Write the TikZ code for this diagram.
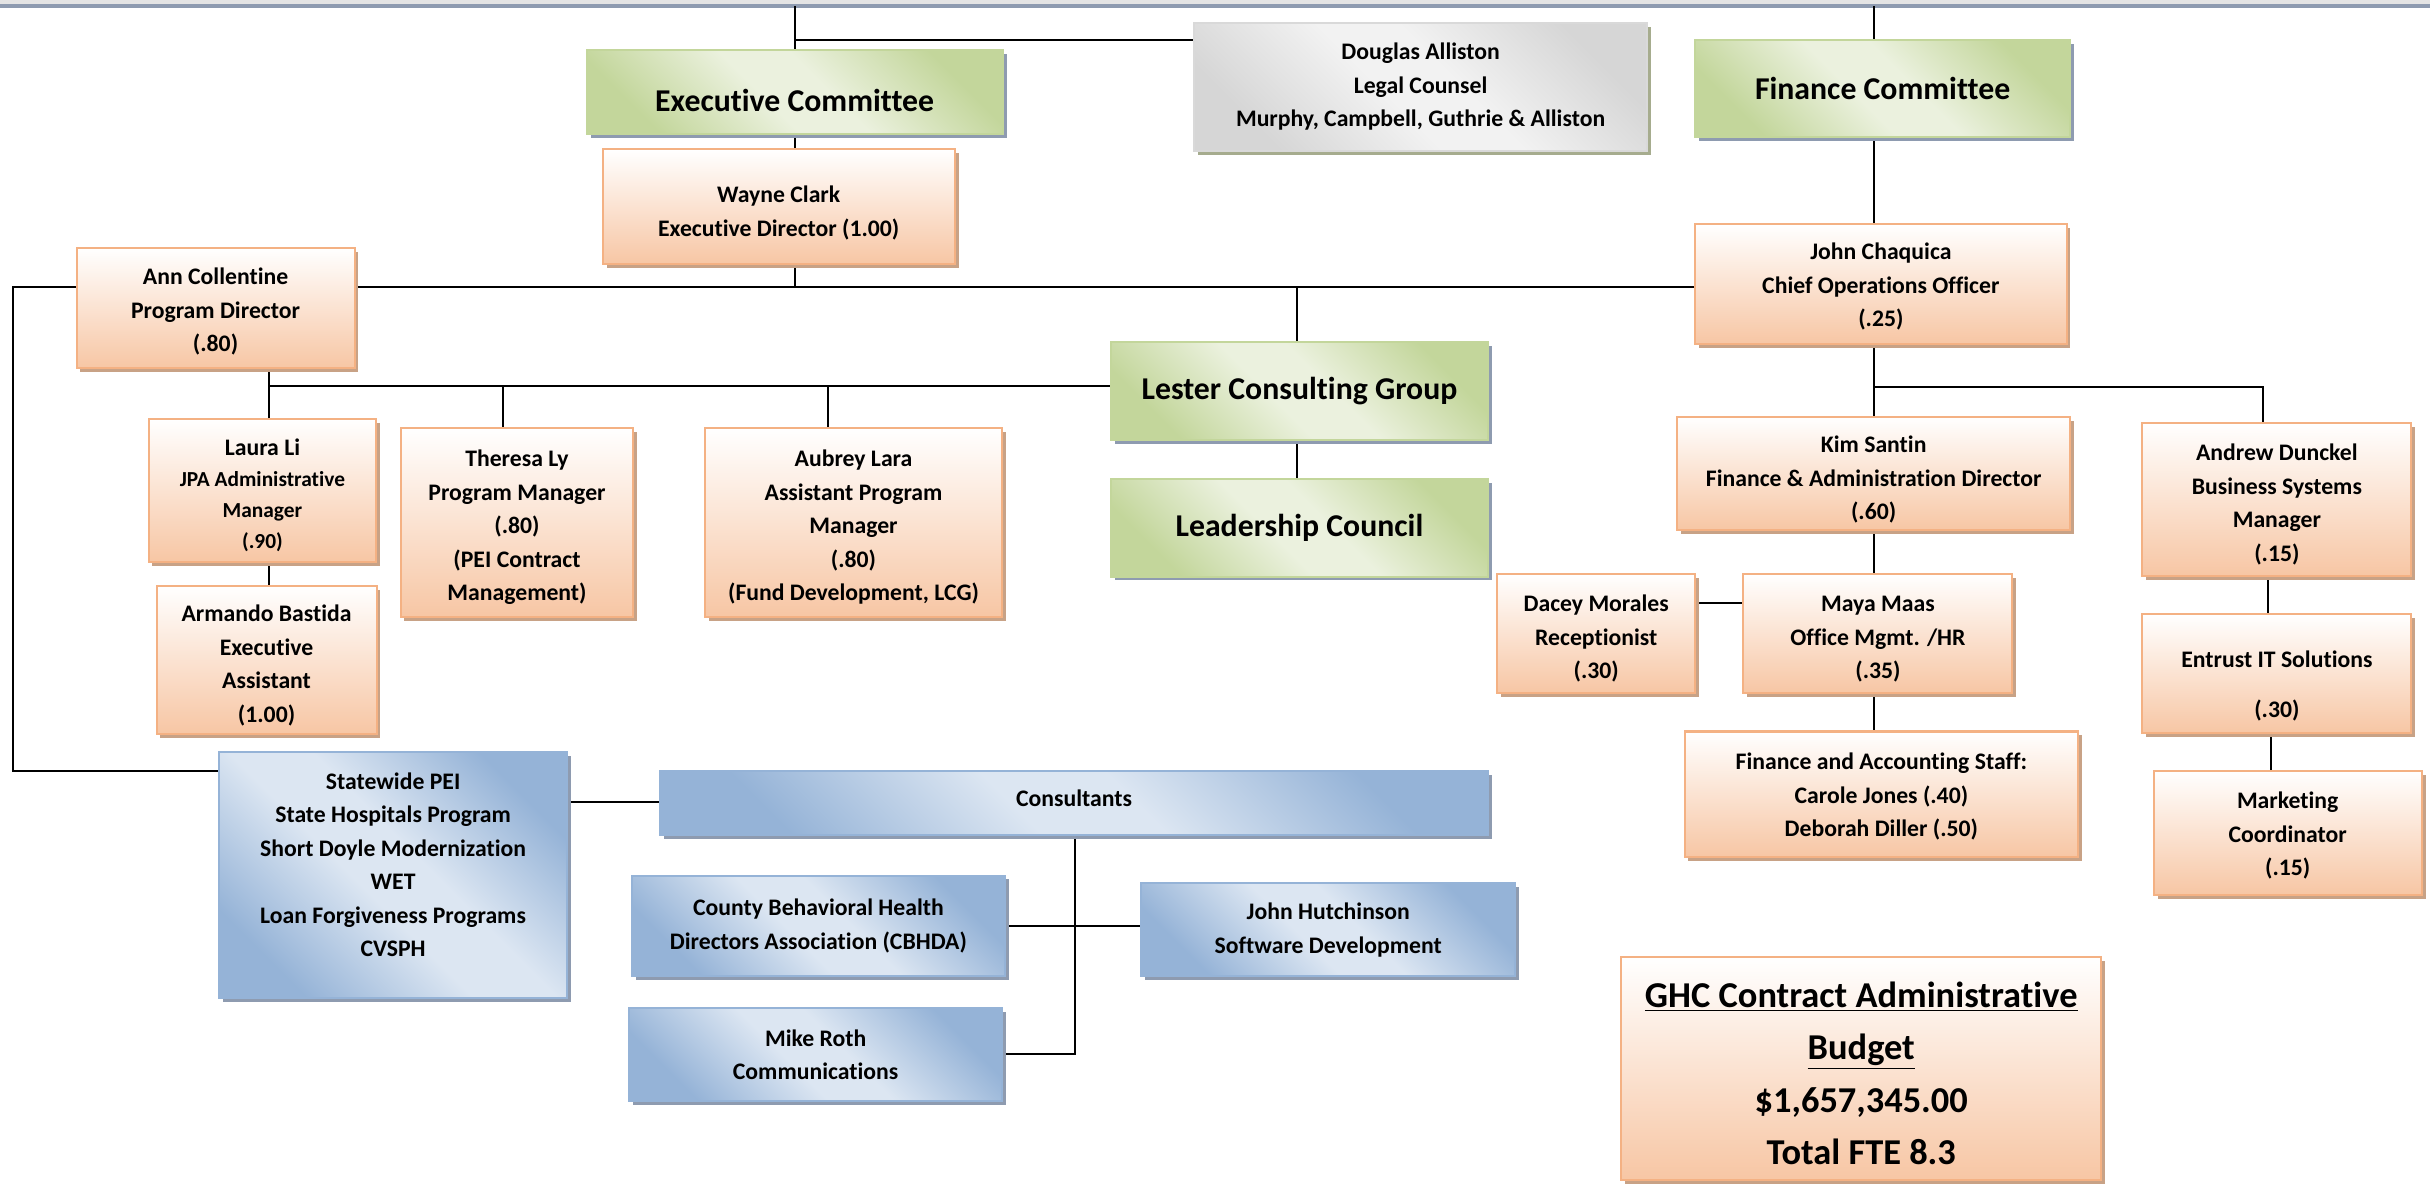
\documentclass[tikz,border=0pt]{standalone}
\usepackage{fontspec}
\setmainfont{Carlito}[Ligatures=NoCommon]
\usetikzlibrary{shadows,backgrounds}
\definecolor{orline}{HTML}{F4B183}
\definecolor{orfill}{HTML}{F7C6A4}
\definecolor{orshadow}{HTML}{C8A286}
\definecolor{gdark}{HTML}{C3D69B}
\definecolor{glight}{HTML}{EBF1DE}
\definecolor{gline}{HTML}{C3D69B}
\definecolor{bdark}{HTML}{95B3D7}
\definecolor{blight}{HTML}{DCE6F2}
\definecolor{bline}{HTML}{95B3D7}
\definecolor{grdark}{HTML}{D6D6D6}
\definecolor{grlight}{HTML}{F2F2F2}
\definecolor{grline}{HTML}{D9D9D9}
\definecolor{bshadow}{HTML}{8E9BB0}
\definecolor{grshadow}{HTML}{A6AC8E}
\definecolor{topgray}{HTML}{E4E4E4}
\newcommand{\mylift}[1]{\rule{0pt}{#1pt}}
\pgfdeclarehorizontalshading{gdiag}{100bp}{color(0bp)=(gdark); color(25bp)=(gdark); color(45bp)=(glight); color(55bp)=(glight); color(75bp)=(gdark); color(100bp)=(gdark)}
\pgfdeclarehorizontalshading{bdiag}{100bp}{color(0bp)=(bdark); color(25bp)=(bdark); color(45bp)=(blight); color(55bp)=(blight); color(75bp)=(bdark); color(100bp)=(bdark)}
\pgfdeclarehorizontalshading{grdiag}{100bp}{color(0bp)=(grdark); color(25bp)=(grdark); color(45bp)=(grlight); color(55bp)=(grlight); color(75bp)=(grdark); color(100bp)=(grdark)}
\tikzset{
  base/.style={inner sep=0pt, align=center, font=\fontsize{15.3}{21.6}\selectfont\bfseries, line width=1.3pt},
  orbox/.style={base, draw=orline, top color=white, bottom color=orfill,
    drop shadow={shadow xshift=2.5pt, shadow yshift=-2.5pt, fill=orshadow, opacity=1}},
  grnbox/.style={base, draw=gline, shading=gdiag, shading angle=45,
    drop shadow={shadow xshift=2.5pt, shadow yshift=-2.5pt, fill=bshadow, opacity=1},
    font=\fontsize{20.5}{24}\selectfont\bfseries},
  bluebox/.style={base, draw=bline, shading=bdiag, shading angle=45,
    drop shadow={shadow xshift=2.5pt, shadow yshift=-2.5pt, fill=bshadow, opacity=1}},
  graybox/.style={base, draw=grline, shading=grdiag, shading angle=45,
    drop shadow={shadow xshift=2.5pt, shadow yshift=-2.5pt, fill=grshadow, opacity=1}},
  sz/.style 2 args={minimum width=#1pt, minimum height=#2pt},
  conn/.style={line width=1.3pt, black}
}
\begin{document}
\begin{tikzpicture}[x=1pt,y=-1pt]
\useasboundingbox (0,0) rectangle (1568,766);
% boxes
\node[grnbox, sz={268.4}{54.2}, execute at begin node={\rule{0pt}{25pt}}] (exec) at (512.8,59.4) {Executive Committee};
\node[graybox, sz={292.3}{82.6}] (doug) at (916.65,55.9) {Douglas Alliston\\Legal Counsel\\Murphy, Campbell, Guthrie \& Alliston};
\node[grnbox, sz={242}{62.2}] (fin) at (1214.8,57.1) {Finance Committee};
\node[orbox, sz={227}{74}] (wayne) at (502.5,133.4) {\mylift{19}Wayne Clark\\Executive Director (1.00)};
\node[orbox, sz={179.4}{77.7}] (ann) at (139.1,198.85) {\mylift{15}Ann Collentine\\Program Director\\(.80)};
\node[orbox, sz={239.7}{77.3}] (chaq) at (1213.65,183.35) {\mylift{14}John Chaquica\\Chief Operations Officer\\(.25)};
\node[grnbox, sz={243}{63.5}] (lester) at (838.5,252.25) {Lester Consulting Group};
\node[grnbox, sz={243}{63}] (leader) at (838.5,340.5) {Leadership Council};
\node[orbox, sz={146.9}{91.9}, font=\fontsize{13.8}{20}\selectfont\bfseries] (laura) at (169.35,316.55) {\mylift{17}{\fontsize{15.3}{20}\selectfont Laura Li}\\JPA Administrative\\Manager\\(.90)};
\node[orbox, sz={142}{95.6}] (armando) at (172,425.8) {\mylift{18}Armando Bastida\\Executive\\Assistant\\(1.00)};
\node[orbox, sz={150.2}{121.6}] (theresa) at (333.6,337.2) {\mylift{17}Theresa Ly\\Program Manager\\(.80)\\(PEI Contract\\Management)};
\node[orbox, sz={191.5}{121.6}] (aubrey) at (550.75,337.2) {\mylift{17}Aubrey Lara\\Assistant Program\\Manager\\(.80)\\(Fund Development, LCG)};
\node[orbox, sz={254}{73.1}] (kim) at (1209,305.45) {\mylift{19}Kim Santin\\Finance \& Administration Director\\(.60)};
\node[orbox, sz={173.6}{98.7}] (andrew) at (1469.2,322.35) {\mylift{17}Andrew Dunckel\\Business Systems\\Manager\\(.15)};
\node[orbox, sz={128}{76.8}] (dacey) at (1030,408.9) {\mylift{17}Dacey Morales\\Receptionist\\(.30)};
\node[orbox, sz={173.5}{76.8}] (maya) at (1211.75,408.9) {\mylift{17}Maya Maas\\Office Mgmt. /HR\\(.35)};
\node[orbox, sz={254}{81}] (staff) at (1214,512.5) {\mylift{14}Finance and Accounting Staff:\\Carole Jones (.40)\\Deborah Diller (.50)};
\node[orbox, sz={173.6}{76.8}] (entrust) at (1469.2,434.8) {\mylift{26}Entrust IT Solutions\\[10.8pt](.30)};
\node[orbox, sz={172.9}{80}] (market) at (1476.15,537.5) {\mylift{14}Marketing\\Coordinator\\(.15)};
\node[bluebox, sz={224.7}{159}] (pei) at (253.65,564.5) {};
\node[base] (peitext) at ([yshift=6.5pt]pei.center) {Statewide PEI\\State Hospitals Program\\Short Doyle Modernization\\WET\\Loan Forgiveness Programs\\CVSPH};
\node[bluebox, sz={534}{41.5}, execute at begin node={\rule[-7pt]{0pt}{1pt}}] (cons) at (693,518.25) {Consultants};
\node[bluebox, sz={240.8}{65}] (cbhda) at (528.1,597.5) {County Behavioral Health\\Directors Association (CBHDA)};
\node[bluebox, sz={241.4}{60}] (hutch) at (857.1,600) {John Hutchinson\\Software Development};
\node[bluebox, sz={240.6}{59.8}] (mike) at (526.3,680.6) {Mike Roth\\Communications};
\node[orbox, sz={310}{143.7}, font=\fontsize{23.5}{33.7}\selectfont\bfseries] (ghc) at (1201,689.65) {\mylift{22.5}\underline{GHC Contract Administrative}\\\underline{Budget}\\\$1,657,345.00\\Total FTE 8.3};
% connectors
\begin{pgfonlayer}{background}
\fill[topgray] (0,0) rectangle (1568,2.3);
\fill[bshadow] (0,2.3) rectangle (1568,5.2);
\coordinate (topA) at (513,4);
\coordinate (jd) at (513,26);
\coordinate (hl) at (513,185);
\coordinate (lc) at (8.2,185);
\coordinate (lc2) at (8.2,497.5);
\coordinate (lx) at (837,185);
\coordinate (ax) at (173.3,249);
\coordinate (tx) at (324.3,249);
\coordinate (ux) at (534.5,249);
\coordinate (fx) at (1209,4);
\coordinate (cj) at (1209,249.5);
\coordinate (cj2) at (1460,249.5);
\coordinate (dy) at (0,389);
\coordinate (ex) at (1463.4,0);
\coordinate (mx) at (1465.5,0);
\coordinate (py) at (0,517.3);
\coordinate (vx) at (693.5,0);
\coordinate (my) at (0,680.4);
\coordinate (hy) at (0,597.3);
\draw[conn] (topA) -- (topA |- exec.north);
\draw[conn] (jd) -- (jd -| doug.west);
\draw[conn] (exec.south -| topA) -- (topA |- wayne.north);
\draw[conn] (wayne.south -| hl) -- (hl);
\draw[conn] (hl -| ann.east) -- (hl -| chaq.west);
\draw[conn] (hl -| ann.west) -- (lc) -- (lc2) -- (lc2 -| pei.west);
\draw[conn] (lx) -- (lx |- lester.north);
\draw[conn] (lester.south -| lx) -- (lx |- leader.north);
\draw[conn] (ax |- ann.south) -- (ax |- laura.north);
\draw[conn] (ax) -- (ax -| lester.west);
\draw[conn] (tx) -- (tx |- theresa.north);
\draw[conn] (ux) -- (ux |- aubrey.north);
\draw[conn] (ax |- laura.south) -- (ax |- armando.north);
\draw[conn] (fx) -- (fx |- fin.north);
\draw[conn] (fx |- fin.south) -- (fx |- chaq.north);
\draw[conn] (fx |- chaq.south) -- (fx |- kim.north);
\draw[conn] (cj) -- (cj2) -- (cj2 |- andrew.north);
\draw[conn] (fx |- kim.south) -- (fx |- maya.north);
\draw[conn] (dacey.east |- dy) -- (maya.west |- dy);
\draw[conn] (fx |- maya.south) -- (fx |- staff.north);
\draw[conn] (ex |- andrew.south) -- (ex |- entrust.north);
\draw[conn] (mx |- entrust.south) -- (mx |- market.north);
\draw[conn] (pei.east |- py) -- (cons.west |- py);
\draw[conn] (vx |- cons.south) -- (vx |- my) -- (mike.east |- my);
\draw[conn] (cbhda.east |- hy) -- (hutch.west |- hy);
\end{pgfonlayer}
\end{tikzpicture}
\end{document}
